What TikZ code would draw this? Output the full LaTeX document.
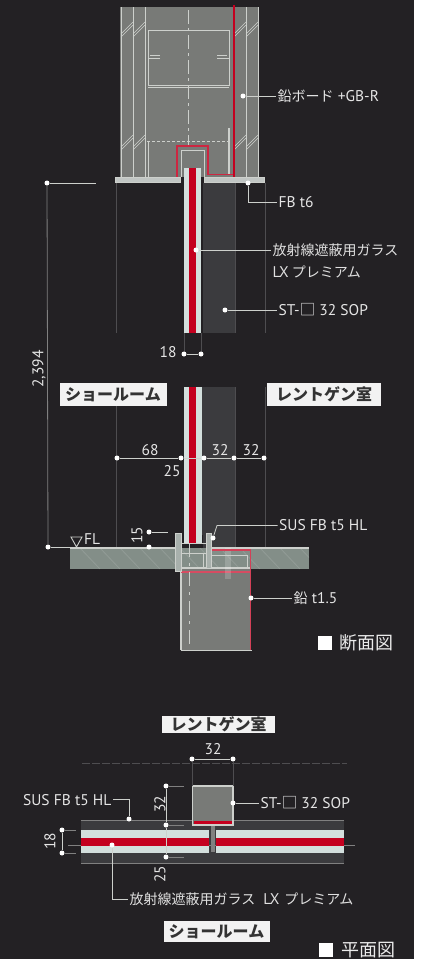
\documentclass[tikz,border=0pt]{standalone}
\usepackage{fontspec}
\setmainfont{PT Sans}
\newfontfamily\jp{Noto Sans CJK JP}
\definecolor{bgdark}{HTML}{232124}
\definecolor{wallgray}{HTML}{787A77}
\definecolor{slab}{HTML}{838E88}
\definecolor{band}{HTML}{3B3B3E}
\definecolor{glass}{HTML}{D3DFDD}
\definecolor{redc}{HTML}{C4001F}
\definecolor{lineg}{HTML}{CDD0CC}
\definecolor{faint}{HTML}{4E4D50}
\tikzset{
  x=1pt,y=-1pt,
  dotn/.style={circle,fill=white,draw=none,inner sep=0pt,minimum size=5pt},
  lead/.style={draw=lineg,line width=.8pt},
  lbl/.style={text=white!90!black,font=\fontsize{15.5}{17}\selectfont,anchor=west,inner sep=1.5pt},
  dimt/.style={text=white!90!black,font=\fontsize{15.5}{17}\selectfont,inner sep=0pt},
  jptxt/.style={text=white!88!black,font=\jp\fontsize{14}{16}\selectfont,anchor=west,inner sep=1.5pt},
  room/.style={fill=white!95!black,text=black!80,font=\jp\bfseries\fontsize{16}{18}\selectfont,inner sep=0pt,anchor=center},
  struct/.style={draw=lineg,line width=.9pt},
  fine/.style={draw=faint,line width=.7pt},
  redl/.style={draw=redc,line width=1.6pt},
  redt/.style={draw=redc!85!white,line width=1.1pt},
  sq/.style={fill=white,draw=none,inner sep=0pt,minimum size=14pt},
  ttl/.style={text=white!92!black,font=\jp\fontsize{18}{20}\selectfont,anchor=west,inner sep=0pt}
}
\begin{document}
\begin{tikzpicture}
\useasboundingbox (0,0) rectangle (427,959);
\fill[white] (0,0) rectangle (427,959);
\fill[bgdark] (0,0) rectangle (414,959);

% ---------- section: faint guides and bands
\fill[band] (203,183) rectangle (235,333);
\fill[band] (203,387) rectangle (235,548);
\foreach \xx in {116,235,265}{
  \draw[fine] (\xx,183) -- (\xx,333);
  \draw[fine] (\xx,387) -- (\xx,547);
}
\draw[fine] (184,333) -- (184,354);
\draw[fine] (201,333) -- (201,354);

% ---------- section: top box
\fill[wallgray] (120,7) rectangle (258,177);
\foreach \xx in {121,133,145,246,258}{\draw[struct] (\xx,7) -- (\xx,177);}
\foreach \yy in {22,135}{
  \foreach \xa in {121,133,234,246}{
    \draw[lineg,line width=.6pt] (\xa,\yy+12) -- (\xa+12,\yy);
    \draw[lineg,line width=.6pt] (\xa,\yy+15) -- (\xa+12,\yy+3);
  }
}
\draw[lineg,line width=.7pt,dash pattern=on 14pt off 4pt on 3pt off 4pt] (188,10) -- (188,146);
\draw[struct] (160,58) -- (148,58) -- (148,30) -- (229,30) -- (229,58) -- (217,58);
\draw[struct] (160,55) -- (150,55);
\draw[struct] (217,55) -- (227,55);
\draw[struct] (148,55) -- (148,85) -- (229,85) -- (229,55);
\draw[struct] (148,87) -- (229,87);
\draw[lineg,line width=1pt,dash pattern=on 3pt off 2pt] (147,141) -- (229,141);
\draw[struct] (148,141) -- (148,177);
\draw[lineg,line width=1.6pt] (229,128) -- (229,175);
\draw[redl] (234,5) -- (234,177);
\draw[redt] (233,174.5) -- (208,174.5) -- (208,146) -- (177,146) -- (177,177);
\draw[struct] (204,177) -- (204,150) -- (181,150) -- (181,177);

% flange plate
\fill[slab!50!white,draw=lineg,line width=.8pt] (115,177.5) rectangle (180,182.5);
\fill[slab!50!white,draw=lineg,line width=.8pt] (204,177.5) rectangle (264,182.5);

% ---------- section: glass
\fill[glass] (183.5,168) rectangle (201,333);
\fill[redc] (189,168) rectangle (195.5,333);
\fill[glass] (184,387) rectangle (202,543);
\fill[redc] (189,387) rectangle (196,543);
\draw[band,line width=.8pt] (202,387) -- (202,535);

% ---------- section: floor
\fill[slab] (70,548) rectangle (309,569);
\begin{scope}
\clip (70,548) rectangle (309,569);
\foreach \xx in {80,100,...,320}{
  \draw[white,opacity=.12,line width=.8pt] (\xx,548) -- (\xx+20,569);
}
\end{scope}
\draw[lineg,line width=1.4pt] (70,548) -- (178,548);
\draw[lineg,line width=1.4pt] (212,548) -- (309,548);
\fill[wallgray] (181,569) rectangle (251,650);
\draw[struct,line width=1.2pt] (181,650) -- (181,568) -- (251,568);
\draw[redl,line width=1.2pt,draw=redc!70!white] (181,572) -- (250,572);
\draw[lineg,line width=.9pt,dash pattern=on 14pt off 6pt on 3pt off 6pt] (189,543) -- (189,648);
\fill[white,opacity=.18] (225,548) rectangle (231,579);
\draw[redl,draw=redc!75!white] (212,550) -- (250.5,550) -- (250.5,650);
\draw[lineg,line width=.9pt] (212,555) -- (247,555) -- (247,567);
\draw[lineg,line width=.9pt] (181,650) -- (252,650);
% clip plates
\draw[struct,fill=slab!70!white] (175.5,533) rectangle (181,571);
\draw[struct,fill=slab!70!white] (206,533) rectangle (211,568);
\draw[struct] (181,543) -- (206,543);
\draw[struct] (181,553) -- (206,553);
\draw[lineg,line width=.9pt] (203,553) -- (203,568);

% ---------- section: labels with leaders
\node[dotn] (dPb) at (243,96) {};
\node[lbl] (tPb) at (276,96) {{\jp\fontsize{14}{16}\selectfont 鉛ボード} +GB-R};
\draw[lead] (dPb) -- (tPb.west);

\node[dotn] (dFB) at (248,183) {};
\node[lbl] (tFB) at (277,202.5) {FB t6};
\draw[lead] (dFB) |- (tFB.west);

\node[dotn] (dGl) at (196,250) {};
\node[jptxt] (tGl) at (271,250) {放射線遮蔽用ガラス};
\node[jptxt] (tLX) at (271,272) {{\fontspec{PT Sans}\fontsize{15.5}{17}\selectfont LX} プレミアム};
\draw[lead] (dGl) -- (tGl.west);

\node[dotn] (dST) at (225,310) {};
\node[lbl] (tST) at (277,310) {ST-{\jp □} 32 SOP};
\draw[lead] (dST) -- (tST.west);

\node[dotn] (dTop) at (47,183) {};
\node[dotn] (dFL) at (48,547) {};
\coordinate (eTop) at (96,183);
\coordinate (eFL) at (70,547);
\draw[lead,draw=gray] (dTop) -- (dFL);
\draw[lead] (dTop) -- (eTop);
\draw[lead] (dFL) -- (eFL);
\node[dimt,rotate=90] (t2394) at (39,369) {2,394};

\node[dimt] (t18a) at (168,352) {18};
\node[dotn] (d18a) at (184,354) {};
\node[dotn] (d18b) at (201,354) {};
\draw[lead] (d18a) -- (d18b);

\node[room,minimum width=107pt,minimum height=23pt] (rShow) at (113,394.5) {ショールーム};
\node[room,minimum width=114pt,minimum height=23pt] (rXray) at (324,394.5) {レントゲン室};

\node[dotn] (da) at (117,458) {};
\node[dotn] (db) at (181,458) {};
\node[dotn] (dc) at (204,458) {};
\node[dotn] (dd) at (234,458) {};
\node[dotn] (de) at (264,458) {};
\draw[lead] (da) -- (db);
\draw[lead] (db) -- (dc);
\draw[lead] (dc) -- (dd);
\draw[lead] (dd) -- (de);
\node[dimt] (t68) at (150,450) {68};
\node[dimt] (t32a) at (220,450) {32};
\node[dimt] (t32b) at (251,450) {32};
\node[dimt] (t25) at (172,471) {25};

\node[dotn] (d15a) at (149,532) {};
\node[dotn] (d15b) at (149,547) {};
\coordinate (e15) at (168,532);
\draw[lead] (d15a) -- (e15);
\node[dimt,rotate=90] (t15) at (137,535) {15};

\coordinate (triA) at (71,537);
\coordinate (triB) at (82,537);
\coordinate (triC) at (76.5,547);
\draw[lineg,line width=.9pt] (triA) -- (triB) -- (triC) -- cycle;
\node[dimt,anchor=west] (tFL) at (84,539) {FL};

\node[dotn] (dSUS) at (213,538) {};
\node[lbl] (tSUS) at (277.5,525.5) {SUS FB t5 HL};
\coordinate (kSUS) at (217,525.5);
\draw[lead] (dSUS) -- (kSUS) -- (tSUS.west);

\node[dotn] (dPb2) at (251,598) {};
\node[lbl] (tPb2) at (292,598) {{\jp\fontsize{14}{16}\selectfont 鉛} t1.5};
\draw[lead] (dPb2) -- (tPb2.west);

\node[sq] (sqA) at (325,643) {};
\node[ttl] (tA) at (339,643) {断面図};

% ---------- plan
\node[room,minimum width=113pt,minimum height=17pt] (rXray2) at (218.5,724.5) {レントゲン室};
\draw[faint,line width=.7pt,dash pattern=on 8pt off 2pt] (82,763) -- (347,763);

\fill[band] (81,820) rectangle (344,863);
\draw[gray,line width=.7pt] (81,820) -- (344,820);
\draw[gray,line width=.7pt] (81,863) -- (344,863);
\draw[gray,line width=.7pt] (68,845.5) -- (355,845.5);
\fill[glass] (81,830) rectangle (209,853);
\fill[glass] (216,830) rectangle (344,853);
\fill[redc] (81,838) rectangle (209,846);
\fill[redc] (216,838) rectangle (344,846);
\fill[gray] (210.5,825) rectangle (214.5,852);

\draw[fill=wallgray,draw=lineg,line width=1.2pt] (192.5,786) rectangle (233,825);
\fill[redc] (193.5,821) rectangle (232,823.5);

\node[dimt] (t32c) at (213,749.5) {32};
\node[dotn] (d32a) at (192,759) {};
\node[dotn] (d32b) at (233,759) {};
\draw[lead] (d32a) -- (d32b);
\draw[fine] (d32a) -- (192,786);
\draw[fine] (d32b) -- (233,786);

\node[dotn] (dv1) at (166,786) {};
\node[dotn] (dv2) at (166,825) {};
\node[dotn] (dv3) at (166,857) {};
\coordinate (ev1) at (184,786);
\coordinate (ev2) at (184,825);
\coordinate (ev3) at (184,857);
\draw[lead] (dv1) -- (dv2) -- (dv3);
\draw[lead,draw=gray] (dv1) -- (ev1);
\draw[lead,draw=gray] (dv2) -- (ev2);
\draw[lead,draw=gray] (dv3) -- (ev3);
\node[dimt,rotate=90] (t32d) at (160,804) {32};
\node[dimt,rotate=90] (t25b) at (160,874) {25};

\node[dotn] (d18c) at (62,830) {};
\node[dotn] (d18d) at (62,853) {};
\coordinate (e18c) at (76,830);
\coordinate (e18d) at (76,853);
\draw[lead] (d18c) -- (d18d);
\draw[lead,draw=gray] (d18c) -- (e18c);
\draw[lead,draw=gray] (d18d) -- (e18d);
\node[dimt,rotate=90] (t18b) at (50,841) {18};

\node[lbl,anchor=east] (tSUSb) at (113,800) {SUS FB t5 HL};
\node[dotn] (dSUSb) at (129,819) {};
\coordinate (kSUSb) at (129,799);
\draw[lead] (tSUSb.east) |- (kSUSb) -- (dSUSb);

\node[dotn] (dSTb) at (233,803) {};
\node[lbl] (tSTb) at (259,803) {ST-{\jp □} 32 SOP};
\draw[lead] (dSTb) -- (tSTb.west);

\node[dotn] (dGlb) at (112,845) {};
\node[jptxt] (tGlb) at (128,899) {放射線遮蔽用ガラス\hspace{8pt}{\fontspec{PT Sans}\fontsize{15.5}{17}\selectfont LX}\hspace{5pt}プレミアム};
\draw[lead] (dGlb) |- (tGlb.west);

\node[room,minimum width=106pt,minimum height=21pt] (rShow2) at (216.5,931.5) {ショールーム};
\node[sq] (sqB) at (326,950) {};
\node[ttl] (tB) at (341,950) {平面図};
\end{tikzpicture}
\end{document}
